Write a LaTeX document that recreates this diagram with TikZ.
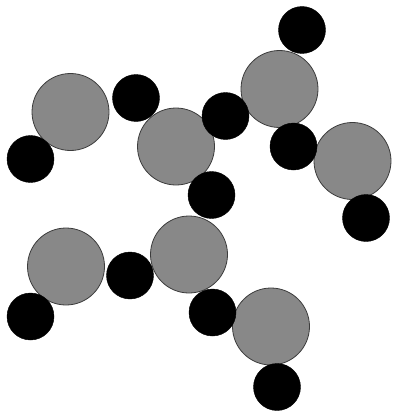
\documentclass[tikz,border=0pt]{standalone}
\definecolor{ballgray}{RGB}{136,136,136}
\definecolor{rimgray}{RGB}{60,60,60}
\tikzset{
  big/.style={circle, fill=ballgray, draw=rimgray, line width=0.8pt, minimum size=77pt, inner sep=0pt},
  small/.style={circle, fill=black, draw=black, minimum size=47pt, inner sep=0pt}
}
\begin{document}
\begin{tikzpicture}[x=1pt,y=-1pt]
\useasboundingbox[fill=white] (0,0) rectangle (393,412);
% gray spheres
\node[big] (g1) at (70.5,112) {};
\node[big] (g2) at (176,146.5) {};
\node[big] (g3) at (279.5,89) {};
\node[big] (g4) at (352.5,161) {};
\node[big] (g5) at (66,266.5) {};
\node[big] (g6) at (189,254.5) {};
\node[big] (g7) at (271,326.5) {};
% black spheres
\node[small] (a) at (302,30) {};
\node[small] (b) at (136,98) {};
\node[small] (c) at (225.5,116) {};
\node[small] (d) at (30.5,159) {};
\node[small] (e) at (293.5,146.5) {};
\node[small] (f) at (211.5,195) {};
\node[small] (g) at (366,218) {};
\node[small] (h) at (130,275.5) {};
\node[small] (i) at (30.5,316.5) {};
\node[small] (j) at (212.5,312.5) {};
\node[small] (k) at (277,387) {};
\end{tikzpicture}
\end{document}
